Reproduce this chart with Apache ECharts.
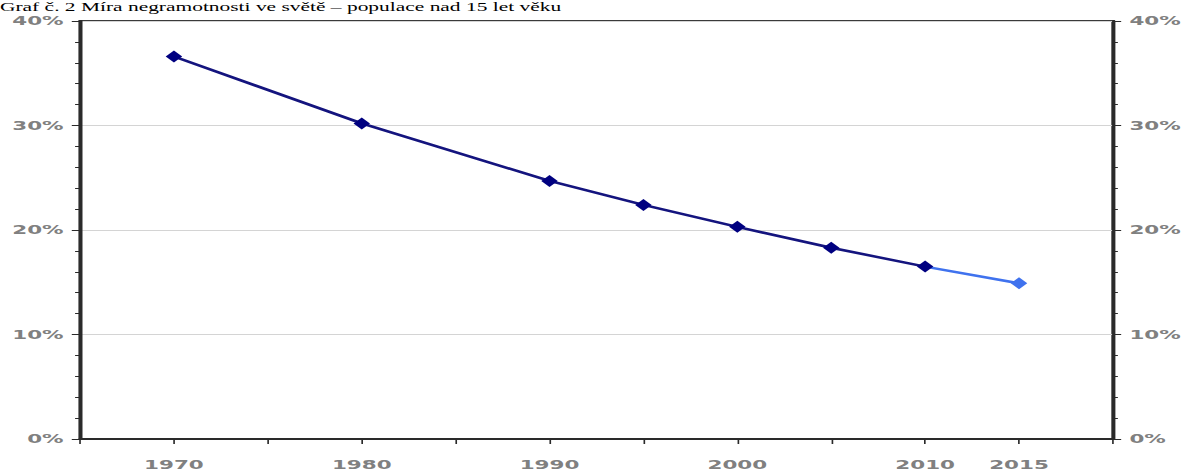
<!DOCTYPE html>
<html>
<head>
<meta charset="utf-8">
<script src="https://cdn.jsdelivr.net/npm/echarts@6/dist/echarts.min.js"></script>
<style>
  html, body { margin: 0; padding: 0; background: #ffffff; }
  #wrap { width: 1188px; height: 472px; overflow: hidden; position: relative; background: #fff; }
  /* the reference picture is a horizontally stretched chart image */
  #chart { width: 720px; height: 472px; transform: scaleX(1.65); transform-origin: 0 0; }
</style>
</head>
<body>
<div id="wrap"><div id="chart"></div></div>
<script>
// ---- data ----
const titleText = 'Graf č. 2 Míra negramotnosti ve světě – populace nad 15 let věku';
const years = [1970, 1980, 1990, 1995, 2000, 2005, 2010, 2015];
const illiteracy = [36.6, 30.2, 24.7, 22.4, 20.3, 18.3, 16.5, 14.9];   // % of population 15+
const estimatedCount = 7;            // 1970–2010 estimates, 2015 projection
const xTickLabels = [1970, 1980, 1990, 2000, 2010, 2015];
const yTickLabels = [0, 10, 20, 30, 40];

// ---- build series data ----
const estData = years.slice(0, estimatedCount).map((y, i) => [y, illiteracy[i]]);
const projData = years.slice(estimatedCount - 1).map((y, i) => {
  const idx = estimatedCount - 1 + i;
  const item = { value: [y, illiteracy[idx]] };
  if (i === 0) item.symbol = 'none';
  return item;
});

const labelFont = {
  fontFamily: 'DejaVu Sans',
  fontSize: 13,
  fontWeight: 'bold',
  color: '#808080'
};

const yAxisBase = {
  type: 'value',
  min: yTickLabels[0],
  max: yTickLabels[yTickLabels.length - 1],
  interval: 10,
  axisLine: { show: true, lineStyle: { color: '#2a2a2a', width: 2 } },
  axisTick: { show: true, inside: false, length: 5, lineStyle: { color: '#2a2a2a', width: 1 } },
  minorTick: { show: true, splitNumber: 5, length: 3, lineStyle: { color: '#2a2a2a', width: 1 } },
  axisLabel: Object.assign({ margin: 10, formatter: '{value}%' }, labelFont)
};

const chart = echarts.init(document.getElementById('chart'), null, { renderer: 'svg' });
chart.setOption({
  animation: false,
  backgroundColor: '#ffffff',
  title: {
    text: titleText,
    left: 0,
    top: 0,
    padding: 0,
    textStyle: {
      fontFamily: 'Liberation Serif',
      fontSize: 13,
      lineHeight: 13,
      fontWeight: 'normal',
      color: '#000000'
    }
  },
  grid: {
    left: 48.5,
    right: 45.5,
    top: 21,
    bottom: 33,
    show: true,
    borderColor: '#3a3a3a',
    borderWidth: 2,
    backgroundColor: 'transparent'
  },
  xAxis: {
    type: 'value',
    min: 1965,
    max: 2020,
    interval: 5,
    splitLine: { show: false },
    axisLine: { show: true, lineStyle: { color: '#2a2a2a', width: 2 } },
    axisTick: { show: true, inside: false, length: 5, lineStyle: { color: '#2a2a2a', width: 1 } },
    axisLabel: Object.assign({
      margin: 19,
      formatter: v => (xTickLabels.indexOf(v) >= 0 ? String(v) : '')
    }, labelFont)
  },
  yAxis: [
    Object.assign({}, yAxisBase, {
      position: 'left',
      splitLine: { show: true, lineStyle: { color: '#d4d4d4', width: 1 } }
    }),
    Object.assign({}, yAxisBase, {
      position: 'right',
      splitLine: { show: false }
    })
  ],
  series: [
    {
      name: 'odhad',
      type: 'line',
      data: estData,
      yAxisIndex: 0,
      symbol: 'diamond',
      symbolSize: [10, 12],
      itemStyle: { color: '#000080' },
      lineStyle: { color: '#14147e', width: 2.5 },
      z: 3
    },
    {
      name: 'projekce',
      type: 'line',
      data: projData,
      yAxisIndex: 0,
      symbol: 'diamond',
      symbolSize: [10, 12],
      itemStyle: { color: '#3f72ee' },
      lineStyle: { color: '#3f72ee', width: 2.5 },
      z: 2
    }
  ]
});
</script>
</body>
</html>
